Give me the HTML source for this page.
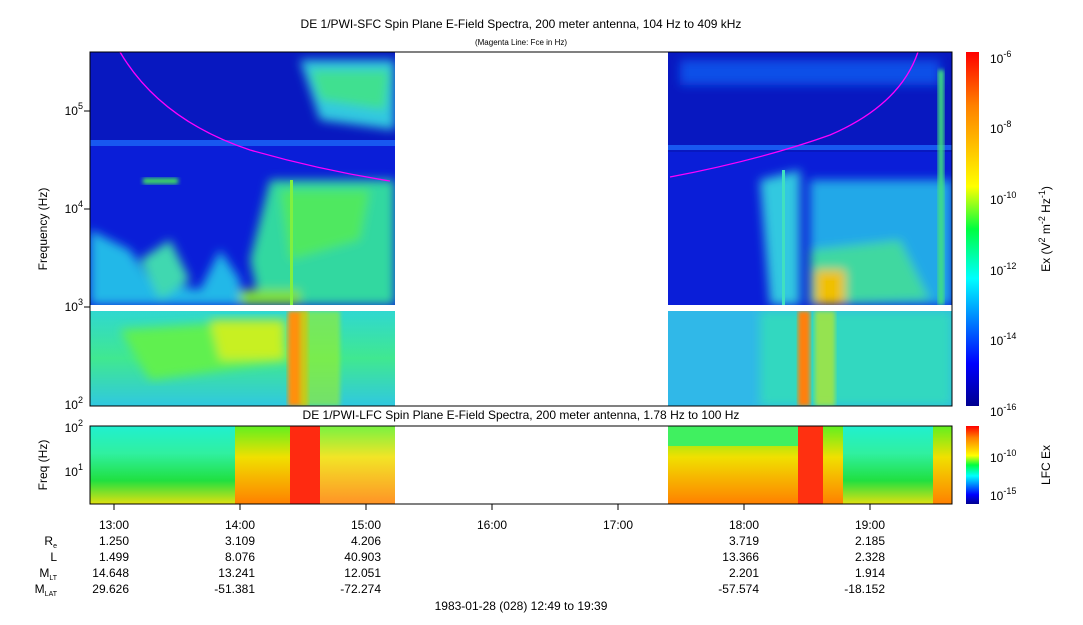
<!DOCTYPE html>
<html><head><style>
body{margin:0;background:#fff;}
svg text{font-family:"Liberation Sans",sans-serif;fill:#000;}
</style></head><body>
<svg width="1083" height="620" viewBox="0 0 1083 620" xmlns="http://www.w3.org/2000/svg">
<defs>
<linearGradient id="jet" x1="0" y1="1" x2="0" y2="0">
<stop offset="0" stop-color="#00008f"/><stop offset="0.12" stop-color="#0000ff"/>
<stop offset="0.36" stop-color="#00ffff"/><stop offset="0.5" stop-color="#00ff40"/>
<stop offset="0.62" stop-color="#ffff00"/><stop offset="0.85" stop-color="#ff8000"/>
<stop offset="1" stop-color="#ff0000"/></linearGradient>
<linearGradient id="lowL" x1="0" y1="0" x2="0" y2="1">
<stop offset="0" stop-color="#30d8d0"/><stop offset="0.5" stop-color="#40e890"/><stop offset="1" stop-color="#30c8e0"/></linearGradient>
<linearGradient id="lfcL" x1="0" y1="0" x2="0" y2="1">
<stop offset="0" stop-color="#20f0d0"/><stop offset="0.35" stop-color="#30f0a0"/><stop offset="0.7" stop-color="#20e040"/><stop offset="1" stop-color="#e0e010"/></linearGradient>
<linearGradient id="lfcY" x1="0" y1="0" x2="0" y2="1">
<stop offset="0" stop-color="#60f020"/><stop offset="0.4" stop-color="#f0e000"/><stop offset="1" stop-color="#ff8000"/></linearGradient>
<filter id="b"><feGaussianBlur stdDeviation="5"/></filter>
<filter id="b2"><feGaussianBlur stdDeviation="2"/></filter>
<clipPath id="cl"><rect x="90" y="52" width="305" height="253"/></clipPath>
<clipPath id="cr"><rect x="668" y="52" width="284" height="253"/></clipPath>
<clipPath id="ll"><rect x="90" y="311" width="305" height="95"/></clipPath>
<clipPath id="lr"><rect x="668" y="311" width="284" height="95"/></clipPath>
</defs>
<text x="521" y="28" font-size="12" text-anchor="middle">DE 1/PWI-SFC  Spin Plane E-Field Spectra, 200 meter antenna, 104 Hz to 409 kHz</text>
<text x="521" y="45" font-size="8" text-anchor="middle">(Magenta Line: Fce in Hz)</text>

<rect x="90" y="52" width="305" height="253" fill="#0a1ed8"/>
<g clip-path="url(#cl)">
<rect x="90" y="52" width="305" height="90" fill="#0818c0"/>
<rect x="90" y="140" width="305" height="6" fill="#1858f0"/>
<g filter="url(#b)">
<path d="M300,60 L395,60 L395,130 L320,120 Z" fill="#30c8e0"/>
<path d="M310,70 L390,70 L385,110 L320,100 Z" fill="#40e090"/>
<path d="M270,180 L395,180 L395,305 L260,305 L250,260 Z" fill="#30d8a0"/>
<path d="M280,190 L370,190 L360,240 L290,260 Z" fill="#50e860"/>
<path d="M90,230 L130,250 L150,280 L200,290 L220,250 L240,280 L240,305 L90,305 Z" fill="#20b8e8"/>
<path d="M140,260 L170,240 L190,280 L160,300 Z" fill="#40d8b0"/>
<path d="M240,290 L300,290 L300,305 L240,305 Z" fill="#80e030"/>
</g>
<rect x="143" y="178" width="35" height="6" fill="#40e060" filter="url(#b2)"/>
<rect x="290" y="180" width="3" height="125" fill="#80f040"/>
</g>
<rect x="668" y="52" width="284" height="253" fill="#0a1ed8"/>
<g clip-path="url(#cr)">
<rect x="668" y="52" width="284" height="100" fill="#0818c0"/>
<rect x="668" y="145" width="284" height="5" fill="#1858f0"/>
<g filter="url(#b)">
<path d="M680,60 L940,60 L940,85 L680,85 Z" fill="#1050e8"/>
<path d="M760,180 L800,170 L800,305 L770,305 Z" fill="#30c8e0"/>
<path d="M810,180 L952,180 L952,305 L810,305 Z" fill="#20a8e8"/>
<path d="M810,250 L900,240 L930,300 L810,305 Z" fill="#40d8a0"/>
<path d="M815,270 L845,270 L845,305 L815,305 Z" fill="#f0c000"/>
</g>
<rect x="938" y="70" width="6" height="235" fill="#40e080" filter="url(#b2)"/>
<rect x="782" y="170" width="3" height="135" fill="#40e0c0"/>
</g>
<path d="M120,52 Q160,120 250,150 Q320,170 390,181" fill="none" stroke="#ff00ff" stroke-width="1.3"/>
<path d="M670,177 Q760,160 830,135 Q900,105 918,52" fill="none" stroke="#ff00ff" stroke-width="1.3"/>

<rect x="90" y="311" width="305" height="95" fill="url(#lowL)"/>
<g clip-path="url(#ll)">
<g filter="url(#b)">
<path d="M120,330 L270,320 L290,360 L150,380 Z" fill="#60f050"/>
<path d="M210,320 L285,320 L285,360 L220,360 Z" fill="#c8f020"/>
</g>
<rect x="288" y="311" width="20" height="95" fill="#ff9010" filter="url(#b2)"/>
<rect x="300" y="311" width="40" height="95" fill="#a0f020" opacity="0.6" filter="url(#b2)"/>
</g>
<rect x="668" y="311" width="284" height="95" fill="#30b8e8"/>
<g clip-path="url(#lr)">
<g filter="url(#b)">
<path d="M760,311 L952,311 L952,406 L760,406 Z" fill="#30d8c0"/>
</g>
<rect x="798" y="311" width="12" height="95" fill="#ff8010" filter="url(#b2)"/>
<rect x="815" y="311" width="20" height="95" fill="#c0e820" opacity="0.7" filter="url(#b2)"/>
</g>

<rect x="90" y="52" width="862" height="354" fill="none" stroke="#000" stroke-width="1"/>
<g stroke="#000" stroke-width="1">
<line x1="84" y1="111" x2="90" y2="111"/><line x1="84" y1="209" x2="90" y2="209"/><line x1="84" y1="307" x2="90" y2="307"/>
</g>
<g font-size="12" text-anchor="end">
<text x="83" y="115">10<tspan font-size="9" dy="-6">5</tspan></text>
<text x="83" y="213">10<tspan font-size="9" dy="-6">4</tspan></text>
<text x="83" y="311">10<tspan font-size="9" dy="-6">3</tspan></text>
<text x="83" y="409">10<tspan font-size="9" dy="-6">2</tspan></text>
</g>
<text transform="translate(47,229) rotate(-90)" font-size="12" text-anchor="middle">Frequency (Hz)</text>

<rect x="966" y="52" width="13" height="354" fill="url(#jet)"/>
<g font-size="12">
<text x="990" y="63">10<tspan font-size="9" dy="-6">-6</tspan></text>
<text x="990" y="133">10<tspan font-size="9" dy="-6">-8</tspan></text>
<text x="990" y="204">10<tspan font-size="9" dy="-6">-10</tspan></text>
<text x="990" y="275">10<tspan font-size="9" dy="-6">-12</tspan></text>
<text x="990" y="345">10<tspan font-size="9" dy="-6">-14</tspan></text>
<text x="990" y="416">10<tspan font-size="9" dy="-6">-16</tspan></text>
</g>
<text transform="translate(1050,229) rotate(-90)" font-size="12" text-anchor="middle">Ex (V<tspan font-size="9" dy="-5">2</tspan><tspan dy="5"> m</tspan><tspan font-size="9" dy="-5">-2</tspan><tspan dy="5"> Hz</tspan><tspan font-size="9" dy="-5">-1</tspan><tspan dy="5">)</tspan></text>

<text x="521" y="419" font-size="12" text-anchor="middle">DE 1/PWI-LFC  Spin Plane E-Field Spectra, 200 meter antenna, 1.78 Hz to 100 Hz</text>
<rect x="90" y="426" width="145" height="78" fill="url(#lfcL)"/>
<rect x="235" y="426" width="55" height="78" fill="url(#lfcY)"/>
<rect x="290" y="426" width="30" height="78" fill="#ff2a10"/>
<rect x="320" y="426" width="75" height="78" fill="url(#lfcY)" opacity="0.85"/>
<rect x="668" y="426" width="130" height="78" fill="url(#lfcY)"/>
<rect x="668" y="426" width="130" height="20" fill="#40f060"/>
<rect x="798" y="426" width="25" height="78" fill="#ff3010"/>
<rect x="823" y="426" width="20" height="78" fill="url(#lfcY)"/>
<rect x="843" y="426" width="90" height="78" fill="url(#lfcL)"/>
<rect x="933" y="426" width="19" height="78" fill="url(#lfcY)"/>
<rect x="90" y="426" width="862" height="78" fill="none" stroke="#000"/>
<g font-size="12" text-anchor="end">
<text x="83" y="432">10<tspan font-size="9" dy="-6">2</tspan></text>
<text x="83" y="476">10<tspan font-size="9" dy="-6">1</tspan></text>
</g>
<text transform="translate(47,465) rotate(-90)" font-size="12" text-anchor="middle">Freq (Hz)</text>
<rect x="966" y="426" width="13" height="78" fill="url(#jet)"/>
<g font-size="12">
<text x="990" y="462">10<tspan font-size="9" dy="-6">-10</tspan></text>
<text x="990" y="500">10<tspan font-size="9" dy="-6">-15</tspan></text>
</g>
<text transform="translate(1050,465) rotate(-90)" font-size="12" text-anchor="middle">LFC Ex</text>

<g stroke="#000">
<line x1="114" y1="504" x2="114" y2="510"/><line x1="240" y1="504" x2="240" y2="510"/><line x1="366" y1="504" x2="366" y2="510"/>
<line x1="492" y1="504" x2="492" y2="510"/><line x1="618" y1="504" x2="618" y2="510"/><line x1="744" y1="504" x2="744" y2="510"/><line x1="870" y1="504" x2="870" y2="510"/>
</g>
<g font-size="12" text-anchor="end">
<text x="129" y="529">13:00</text><text x="255" y="529">14:00</text><text x="381" y="529">15:00</text><text x="507" y="529">16:00</text><text x="633" y="529">17:00</text><text x="759" y="529">18:00</text><text x="885" y="529">19:00</text>
<text x="129" y="545">1.250</text><text x="255" y="545">3.109</text><text x="381" y="545">4.206</text><text x="759" y="545">3.719</text><text x="885" y="545">2.185</text>
<text x="129" y="561">1.499</text><text x="255" y="561">8.076</text><text x="381" y="561">40.903</text><text x="759" y="561">13.366</text><text x="885" y="561">2.328</text>
<text x="129" y="577">14.648</text><text x="255" y="577">13.241</text><text x="381" y="577">12.051</text><text x="759" y="577">2.201</text><text x="885" y="577">1.914</text>
<text x="129" y="593">29.626</text><text x="255" y="593">-51.381</text><text x="381" y="593">-72.274</text><text x="759" y="593">-57.574</text><text x="885" y="593">-18.152</text>
<text x="57" y="545">R<tspan font-size="7" dy="3">e</tspan></text>
<text x="57" y="561">L</text>
<text x="57" y="577">M<tspan font-size="7" dy="3">LT</tspan></text>
<text x="57" y="593">M<tspan font-size="7" dy="3">LAT</tspan></text>
</g>
<text x="521" y="610" font-size="12" text-anchor="middle">1983-01-28 (028) 12:49 to 19:39</text>
</svg>
</body></html>
